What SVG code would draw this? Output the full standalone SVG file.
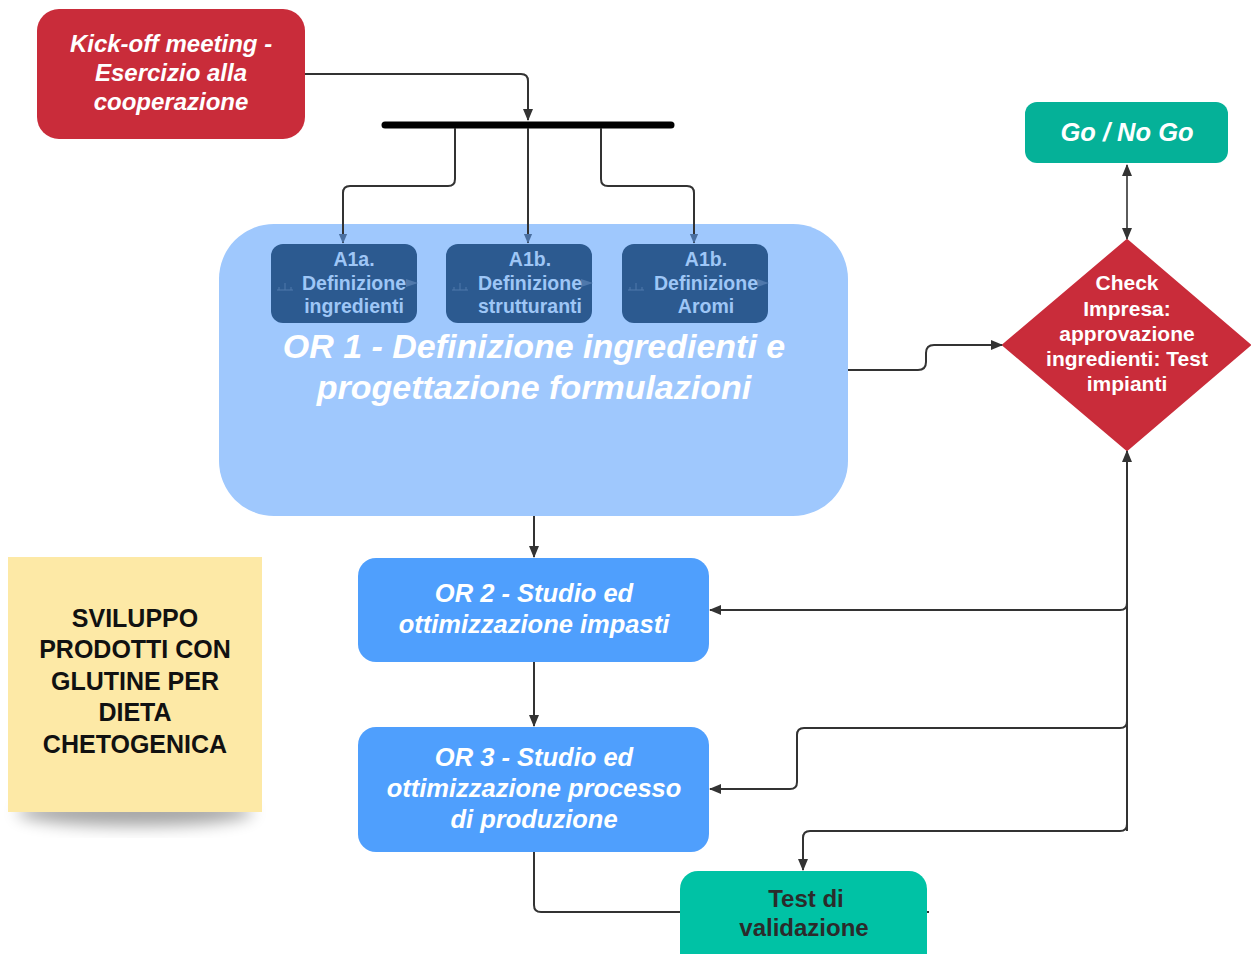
<svg xmlns="http://www.w3.org/2000/svg" width="1252" height="954" viewBox="0 0 1252 954">
<defs>
<style>
.t{font-family:"Liberation Sans",Arial,sans-serif;font-weight:bold;text-anchor:middle}
.it{font-style:italic}
.w{fill:#ffffff}
.c{fill:none;stroke:#333333;stroke-width:2;stroke-linejoin:round}
.cb{fill:none;stroke:#333333;stroke-width:1.6;stroke-linejoin:round}
</style>
<marker id="ah" viewBox="0 0 12 12" refX="11" refY="6" markerWidth="12" markerHeight="12" markerUnits="userSpaceOnUse" orient="auto-start-reverse">
<path d="M0,1 L12,6 L0,11 Z" fill="#333333"/>
</marker>
<marker id="ahb" viewBox="0 0 12 12" refX="11" refY="6" markerWidth="10" markerHeight="10" markerUnits="userSpaceOnUse" orient="auto-start-reverse">
<path d="M0,1 L12,6 L0,11 Z" fill="#4a6fa0"/>
</marker>
<filter id="sh" x="-20%" y="-20%" width="140%" height="160%">
<feGaussianBlur stdDeviation="8"/>
</filter>
</defs>

<g id="note">
<ellipse cx="135" cy="812" rx="118" ry="14" fill="#000" opacity="0.35" filter="url(#sh)"/>
<rect x="8" y="557" width="254" height="255" fill="#fde9a6"/>
<text class="t" font-size="25" fill="#111"><tspan x="135" y="627">SVILUPPO</tspan><tspan x="135" y="658">PRODOTTI CON</tspan><tspan x="135" y="690">GLUTINE PER</tspan><tspan x="135" y="721">DIETA</tspan><tspan x="135" y="753">CHETOGENICA</tspan></text>
</g>

<g id="kickoff">
<rect x="37" y="9" width="268" height="130" rx="22" fill="#c92c3a"/>
<text class="t it w" font-size="24"><tspan x="171" y="52">Kick-off meeting -</tspan><tspan x="171" y="81">Esercizio alla</tspan><tspan x="171" y="110">cooperazione</tspan></text>
</g>

<g id="sync-bar">
<line x1="385" y1="125" x2="671" y2="125" stroke="#000" stroke-width="7" stroke-linecap="round"/>
</g>

<g id="or1">
<rect x="219" y="224" width="629" height="292" rx="55" fill="#9fc8fd"/>
<text class="t it w" font-size="34"><tspan x="534" y="358">OR 1 - Definizione ingredienti e</tspan><tspan x="534" y="399">progettazione formulazioni</tspan></text>
</g>

<g id="a1a">
<rect x="271" y="244" width="146" height="79" rx="12" fill="#2c5a90"/>
<path d="M277,290 h16 M285,283 v7 M279,290 v-3 M291,290 v-3" stroke="#4f78ab" stroke-width="1" fill="none"/>
<path d="M406,279 L418,283 L406,287 Z" fill="#4f78ab"/>
<text class="t" font-size="19.5" fill="#9ec6f6"><tspan x="354" y="266">A1a.</tspan><tspan x="354" y="290">Definizione</tspan><tspan x="354" y="313">ingredienti</tspan></text>
</g>

<g id="a1b">
<rect x="446" y="244" width="146" height="79" rx="12" fill="#2c5a90"/>
<path d="M452,290 h16 M460,283 v7 M454,290 v-3 M466,290 v-3" stroke="#4f78ab" stroke-width="1" fill="none"/>
<path d="M581,279 L593,283 L581,287 Z" fill="#4f78ab"/>
<text class="t" font-size="19.5" fill="#9ec6f6"><tspan x="530" y="266">A1b.</tspan><tspan x="530" y="290">Definizione</tspan><tspan x="530" y="313">strutturanti</tspan></text>
</g>

<g id="a1c">
<rect x="622" y="244" width="146" height="79" rx="12" fill="#2c5a90"/>
<path d="M628,290 h16 M636,283 v7 M630,290 v-3 M642,290 v-3" stroke="#4f78ab" stroke-width="1" fill="none"/>
<path d="M757,279 L769,283 L757,287 Z" fill="#4f78ab"/>
<text class="t" font-size="19.5" fill="#9ec6f6"><tspan x="706" y="266">A1b.</tspan><tspan x="706" y="290">Definizione</tspan><tspan x="706" y="313">Aromi</tspan></text>
</g>

<g id="gonogo">
<rect x="1025" y="102" width="203" height="61" rx="12" fill="#05b198"/>
<text class="t it w" font-size="25.5" x="1127" y="141">Go / No Go</text>
</g>

<g id="check">
<path d="M1127,240 L1250,345 L1127,450 L1003,345 Z" fill="#c92c3a" stroke="#c92c3a" stroke-width="2" stroke-linejoin="round"/>
<text class="t w" font-size="21"><tspan x="1127" y="290">Check</tspan><tspan x="1127" y="316">Impresa:</tspan><tspan x="1127" y="341">approvazione</tspan><tspan x="1127" y="366">ingredienti: Test</tspan><tspan x="1127" y="391">impianti</tspan></text>
</g>

<g id="or2">
<rect x="358" y="558" width="351" height="104" rx="18" fill="#4f9ffd"/>
<text class="t it w" font-size="25.5"><tspan x="534" y="602">OR 2 - Studio ed</tspan><tspan x="534" y="633">ottimizzazione impasti</tspan></text>
</g>

<g id="or3">
<rect x="358" y="727" width="351" height="125" rx="18" fill="#4f9ffd"/>
<text class="t it w" font-size="25.5"><tspan x="534" y="766">OR 3 - Studio ed</tspan><tspan x="534" y="797">ottimizzazione processo</tspan><tspan x="534" y="828">di produzione</tspan></text>
</g>

<g id="test">
<rect x="680" y="871" width="247" height="100" rx="18" fill="#00c2a5"/>
<text class="t" font-size="24" fill="#2b2b2b"><tspan x="806" y="907">Test di</tspan><tspan x="804" y="936">validazione</tspan></text>
</g>

<g id="connectors">
<path class="c" d="M305,74 H521 Q528,74 528,81 V120" marker-end="url(#ah)"/>
<path class="c" d="M455,128 V179 Q455,186 448,186 H350 Q343,186 343,193 V243" marker-end="url(#ahb)"/>
<path class="c" d="M528,128 V243" marker-end="url(#ahb)"/>
<path class="c" d="M601,128 V179 Q601,186 608,186 H687 Q694,186 694,193 V243" marker-end="url(#ahb)"/>
<path class="c" d="M848,370 H918 Q926,370 926,362 V353 Q926,345 934,345 H1002" marker-end="url(#ah)"/>
<path class="cb" d="M1127,165 V239" marker-start="url(#ah)" marker-end="url(#ah)"/>
<path class="c" d="M534,516 V557" marker-end="url(#ah)"/>
<path class="c" d="M534,662 V726" marker-end="url(#ah)"/>
<path class="c" d="M1127,831 V451" marker-end="url(#ah)"/>
<path class="c" d="M1127,603 Q1127,610 1120,610 H710" marker-end="url(#ah)"/>
<path class="c" d="M1127,721 Q1127,728 1120,728 H804 Q797,728 797,735 V782 Q797,789 790,789 H710" marker-end="url(#ah)"/>
<path class="c" d="M1127,824 Q1127,831 1120,831 H810 Q803,831 803,838 V870" marker-end="url(#ah)"/>
<path class="c" d="M534,852 V905 Q534,912 541,912 H680"/>
<path class="c" d="M927,912 H929"/>
</g>
</svg>
